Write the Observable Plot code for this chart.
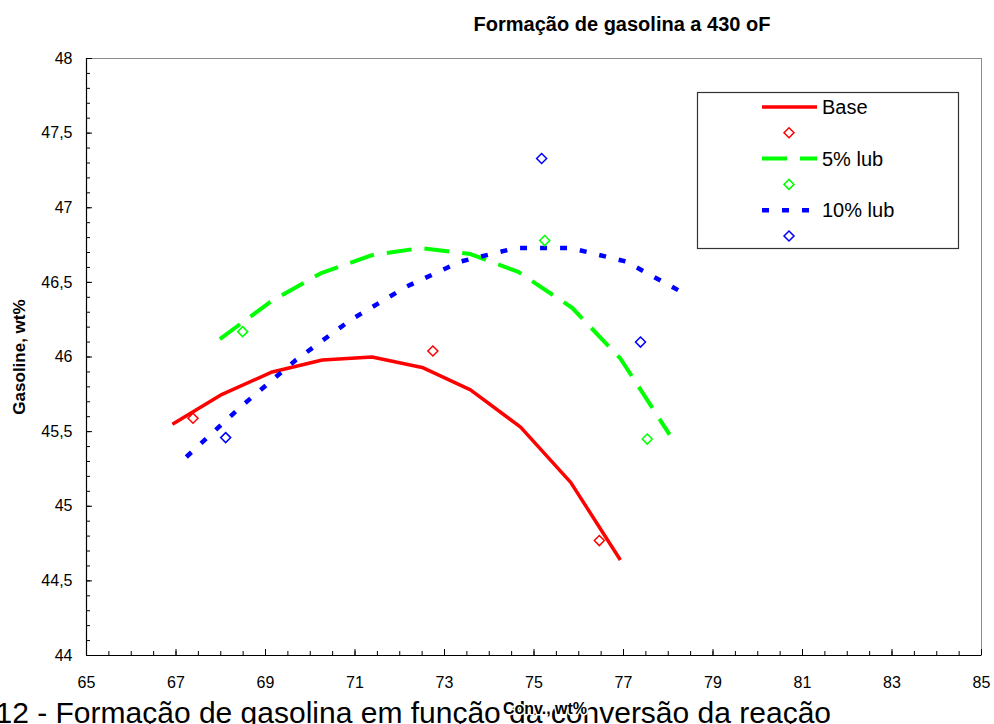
<!DOCTYPE html>
<html><head><meta charset="utf-8">
<script src="https://cdn.jsdelivr.net/npm/d3@7"></script>
<script src="https://cdn.jsdelivr.net/npm/@observablehq/plot@0.6"></script>
<style>
html,body{margin:0;padding:0;background:#fff;overflow:hidden;width:994px;height:724px;}
#wrap{position:relative;width:994px;height:724px;overflow:hidden;}
#wrap svg{position:absolute;left:0;top:0;}
svg text{font-family:"Liberation Sans", Arial, sans-serif;}
</style></head><body><div id="wrap"></div>
<script>
// ---- text ----
const titleText = "Formação de gasolina a 430 oF";
const xLabel = "Conv., wt%";
const yLabel = "Gasoline, wt%";
const captionText = "12 - Formação de gasolina em função da conversão da reação";

// ---- series (fitted curves) ----
const seriesNames = ["Base", "5% lub", "10% lub"];
const seriesColors = ["#ff0000", "#00ff00", "#0000ff"];

const baseX = [66.92, 68.03, 69.15, 70.27, 71.38, 72.50, 73.58, 74.70, 75.82, 76.93];
const baseY = [45.55, 45.75, 45.90, 45.98, 46.00, 45.93, 45.78, 45.53, 45.16, 44.64];
const lub5X = [67.98, 69.11, 70.23, 71.35, 72.46, 73.58, 74.65, 75.85, 76.93, 78.03];
const lub5Y = [46.12, 46.37, 46.56, 46.68, 46.73, 46.69, 46.57, 46.33, 45.99, 45.48];
const lub10X = [67.23, 68.46, 69.68, 70.91, 72.14, 73.36, 74.59, 75.82, 77.05, 78.27];
const lub10Y = [45.33, 45.67, 45.98, 46.25, 46.47, 46.64, 46.73, 46.73, 46.64, 46.44];

// ---- observed points ----
const baseObsX = [67.38, 72.74, 76.46];
const baseObsY = [45.59, 46.04, 44.77];
const lub5ObsX = [68.49, 75.24, 77.53];
const lub5ObsY = [46.17, 46.78, 45.45];
const lub10ObsX = [68.11, 75.17, 77.38];
const lub10ObsY = [45.46, 47.33, 46.10];

// ---- ticks ----
const xTickLabels = [65, 67, 69, 71, 73, 75, 77, 79, 81, 83, 85];
const yTickLabels = [44, 44.5, 45, 45.5, 46, 46.5, 47, 47.5, 48];
const xMinorTicks = d3.range(65, 85.001, 0.5);
const yMinorTicks = d3.range(44, 48.001, 0.1).map(v => +v.toFixed(1));

const rows = (xs, ys) => xs.map((x, i) => ({x, y: ys[i]}));
const curves = [rows(baseX, baseY), rows(lub5X, lub5Y), rows(lub10X, lub10Y)];
const obs = [rows(baseObsX, baseObsY), rows(lub5ObsX, lub5ObsY), rows(lub10ObsX, lub10ObsY)];
const dashes = [null, "25,13", "7,13"];
const widths = [3.5, 4, 4.5];
const DOT_R = 4.5;

const font = "Liberation Sans, Arial, sans-serif";
const chart = Plot.plot({
  width: 994, height: 724,
  marginLeft: 86, marginRight: 13, marginTop: 58, marginBottom: 69,
  style: {fontFamily: font, fontSize: "16px", color: "#000", background: "transparent", overflow: "visible"},
  x: {domain: [65, 85]},
  y: {domain: [44, 48]},
  marks: [
    Plot.frame({stroke: "#8c8c8c"}),
    Plot.ruleX([65], {stroke: "#000", strokeWidth: 1.2}),
    Plot.ruleY([44], {stroke: "#000", strokeWidth: 1.2}),
    Plot.axisX({ticks: xMinorTicks, tickSize: 4, dy: -4, fill: "none", label: null}),
    Plot.axisX({ticks: xTickLabels, tickSize: 6, dy: -6, fill: "none", label: null}),
    Plot.axisX({ticks: xTickLabels, tickSize: 0, tickPadding: 21, fontSize: 16, label: null, tickFormat: d => String(d)}),
    Plot.axisY({ticks: yMinorTicks, tickSize: 4, dx: 4, fill: "none", label: null}),
    Plot.axisY({ticks: yTickLabels, tickSize: 6, dx: 6, fill: "none", label: null}),
    Plot.axisY({ticks: yTickLabels, tickSize: 0, tickPadding: 14, fontSize: 16, label: null, tickFormat: d => String(d).replace(".", ",")}),
    ...curves.map((c, i) => Plot.line(c, {x: "x", y: "y", stroke: seriesColors[i], strokeWidth: widths[i], strokeDasharray: dashes[i], strokeLinecap: "butt", strokeLinejoin: "miter"})),
    ...obs.map((o, i) => Plot.dot(o, {x: "x", y: "y", symbol: "diamond2", r: DOT_R, stroke: seriesColors[i], strokeWidth: 1.5, fill: "none"})),
    Plot.text([titleText], {frameAnchor: "top", textAnchor: "middle", lineAnchor: "middle", dx: 88, dy: -34, fontWeight: "bold", fontSize: 20}),
    Plot.text([yLabel], {frameAnchor: "left", textAnchor: "middle", lineAnchor: "middle", rotate: -90, dx: -67, fontWeight: "bold", fontSize: 17}),
    Plot.text([captionText], {frameAnchor: "bottom-left", textAnchor: "start", lineAnchor: "bottom", dx: -91, dy: 67, fontSize: 30}),
    Plot.text([xLabel], {frameAnchor: "bottom", textAnchor: "middle", lineAnchor: "middle", dx: 11, dy: 53, fontWeight: "bold", fontSize: 16, stroke: "#fff", strokeWidth: 3, fill: "#000"})
  ]
});
document.getElementById("wrap").appendChild(chart);

// ---- legend ----
const L = {x: 697, y: 92, w: 261, h: 156, lineX1: 762, lineX2: 817, textX: 822, symX: 789, rowY0: 107, rowStep: 25.8};
const lg = d3.select("#wrap").append("svg").attr("width", 994).attr("height", 724)
  .style("pointer-events", "none");
lg.append("rect").attr("x", L.x + 0.5).attr("y", L.y + 0.5).attr("width", L.w).attr("height", L.h)
  .attr("fill", "#fff").attr("stroke", "#333").attr("stroke-width", 1.2);
const sym = d3.symbol(d3.symbolDiamond2, DOT_R * DOT_R * Math.PI);
seriesNames.forEach((name, i) => {
  const yLine = L.rowY0 + i * 2 * L.rowStep;
  const yDot = yLine + L.rowStep;
  lg.append("line").attr("x1", L.lineX1).attr("x2", L.lineX2).attr("y1", yLine).attr("y2", yLine)
    .attr("stroke", seriesColors[i]).attr("stroke-width", widths[i])
    .attr("stroke-dasharray", dashes[i]);
  lg.append("text").attr("x", L.textX).attr("y", yLine).attr("dy", "0.35em")
    .attr("font-size", 20).attr("fill", "#000").text(name);
  lg.append("path").attr("d", sym()).attr("transform", `translate(${L.symX},${yDot})`)
    .attr("fill", "none").attr("stroke", seriesColors[i]).attr("stroke-width", 1.5);
});
</script>
</body></html>
